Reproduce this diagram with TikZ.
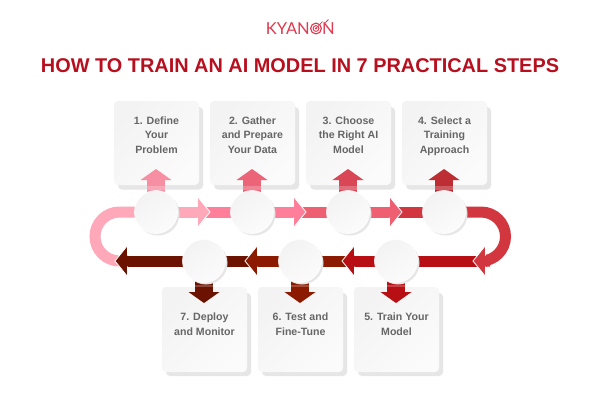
\documentclass[tikz,border=0pt]{standalone}
\usepackage{fontspec}
\setmainfont{Liberation Sans}
\newfontfamily\logofont{Lato}
\usetikzlibrary{calc}
\definecolor{cA}{HTML}{FFA8BA}
\definecolor{cB}{HTML}{FF7F9A}
\definecolor{cC}{HTML}{EE5F72}
\definecolor{cD}{HTML}{D2373F}
\definecolor{cE}{HTML}{B80F14}
\definecolor{cF}{HTML}{8B1A00}
\definecolor{cG}{HTML}{6B1300}
\definecolor{uA}{HTML}{F78FA3}
\definecolor{uB}{HTML}{EC6478}
\definecolor{uC}{HTML}{D94756}
\definecolor{uD}{HTML}{BD2E34}
\definecolor{titlered}{HTML}{B80F1E}
\definecolor{logored}{HTML}{E2394E}
\definecolor{boxtext}{HTML}{666666}
\definecolor{softshadow}{HTML}{E6E6E6}
\definecolor{cardlo}{HTML}{F3F3F3}
\definecolor{cardhi}{HTML}{FBFBFB}
\tikzset{
  x=1pt,y=-1pt,
  stepcard/.style={rounded corners=4pt,shading=axis,left color=cardlo,right color=cardhi,shading angle=45},
  cardshadow/.style={rounded corners=4pt,fill=softshadow},
  hub/.style={circle,minimum size=43pt,inner sep=0pt,shading=axis,top color=cardlo,bottom color=cardhi,shading angle=35},
  hubshadow/.style={circle,minimum size=43pt,inner sep=0pt,fill=softshadow},
  cardtext/.style={text=boxtext,align=center,inner sep=0pt,font=\fontsize{10.6}{14.3}\selectfont\bfseries},
  arrowbody/.style={draw=white,line width=0.8pt,line join=miter},
}
% #1 colour, #2 tail x, #3 tip x, #4 y : horizontal arrow
\newcommand{\hflow}[4]{%
  \pgfmathsetmacro{\dirsign}{(#3>#2)?1:-1}%
  \pgfmathsetmacro{\headbase}{#3-\dirsign*12.5}%
  \fill[#1] (#2,#4-5.5) -- (\headbase,#4-5.5) -- (\headbase,#4+5.5) -- (#2,#4+5.5) -- cycle;
  \draw[arrowbody,fill=#1] (\headbase,#4-5.5) -- (\headbase,#4-15.5) -- (#3,#4) -- (\headbase,#4+15.5) -- (\headbase,#4+5.5);
  \fill[#1] (\headbase-\dirsign*1,#4-5) rectangle (\headbase+\dirsign*1,#4+5);
}
% #1 colour, #2 x, #3 tail y, #4 tip y, #5 band top, #6 band bottom : vertical arrow
\newcommand{\vflow}[6]{%
  \pgfmathsetmacro{\dirsign}{(#4>#3)?1:-1}%
  \pgfmathsetmacro{\headbase}{#4-\dirsign*11}%
  \fill[#1] (#2-9,#3) rectangle (#2+9,\headbase);
  \fill[#1] (#2-15.5,\headbase) -- (#2,#4) -- (#2+15.5,\headbase) -- cycle;
  \fill[white,opacity=.22] (#2-9,#5) rectangle (#2+9,#6);
}
\begin{document}
\begin{tikzpicture}
\useasboundingbox (0,0) rectangle (600,400);
\fill[white] (0,0) rectangle (600,400);

% logo
\node[inner sep=0pt,anchor=east,text=logored,font=\fontsize{16.5}{16.5}\logofont] (logoleft) at (310,28.5) {KYAN};
\node[inner sep=0pt,anchor=west,text=logored,font=\fontsize{16.5}{16.5}\logofont] (logoright) at (322,28.5) {N};
\draw[logored,line width=1.1pt] (316,28.5) circle (5.4);
\draw[logored,line width=.9pt] (316,28.5) circle (2.9);
\fill[logored] (316,28.5) circle (1.1);
\draw[logored,line width=.7pt] (316,28.5) -- (322.5,21.5);
\draw[logored,line width=.8pt] (325.5,22.5) -- (328.5,19.5);

% title
\node[inner sep=0pt,text=titlered,font=\fontsize{19.9}{20}\selectfont\bfseries] (title) at (300,66) {HOW TO TRAIN AN AI MODEL IN 7 PRACTICAL STEPS};

% cards
\foreach \cx in {156.5,252.5,348.5,444.5}{
  \fill[cardshadow] (\cx-38.5,107) rectangle (\cx+46.5,189.5);
  \path[stepcard] (\cx-42.5,101) rectangle (\cx+42.5,185);
}
\foreach \cx in {204.5,300.5,396.5}{
  \fill[cardshadow] (\cx-38.5,293) rectangle (\cx+46.5,376);
  \path[stepcard] (\cx-42.5,287) rectangle (\cx+42.5,372);
}

% bends
\draw[cD,line width=11pt] (444,212) -- (481,212) arc[start angle=-90,end angle=90,radius=24.5] -- (490,261);
\draw[cA,line width=11pt] (156,212) -- (119.5,212) arc[start angle=-90,end angle=-270,radius=24.5];

% lower row, left to right so each head lies over the next shaft
\hflow{cG}{290}{115}{261}
\hflow{cF}{380}{245}{261}
\hflow{cE}{481}{342}{261}
\hflow{cD}{486}{473}{261}

% upper row, right to left so each head lies over the next shaft
\fill[cD] (392,206.5) rectangle (444,217.5);
\hflow{cC}{296}{402}{212}
\hflow{cB}{200}{306}{212}
\hflow{cA}{156}{210}{212}

% upward and downward arrows
\vflow{uA}{156}{195}{169}{185.5}{189.5}
\vflow{uB}{252}{195}{169}{185.5}{189.5}
\vflow{uC}{348}{195}{169}{185.5}{189.5}
\vflow{uD}{444}{195}{169}{185.5}{189.5}
\vflow{cG}{204}{278}{303}{284.5}{287}
\vflow{cF}{300}{278}{303}{284.5}{287}
\vflow{cE}{396}{278}{303}{284.5}{287}

% hubs
\foreach \cx/\cy/\nm in {156/212/h1,252/212/h2,348/212/h3,444/212/h4,396/261/h5,300/261/h6,204/261/h7}{
  \node[hubshadow] at (\cx+2,\cy+2) {};
  \node[hub,draw=white,line width=.6pt] (\nm) at (\cx,\cy) {};
}

% labels
\node[cardtext] (t1) at (156.5,136) {\strut 1. Define\\Your\\\strut Problem};
\node[cardtext] (t2) at (252.5,136) {\strut 2. Gather\\and Prepare\\\strut Your Data};
\node[cardtext] (t3) at (348.5,136) {\strut 3. Choose\\the Right AI\\\strut Model};
\node[cardtext] (t4) at (444.5,136) {\strut 4. Select a\\Training\\\strut Approach};
\node[cardtext] (t5) at (396.5,325) {\strut 5. Train Your\\\strut Model};
\node[cardtext] (t6) at (300.5,325) {\strut 6. Test and\\\strut Fine-Tune};
\node[cardtext] (t7) at (204.5,325) {\strut 7. Deploy\\\strut and Monitor};
\end{tikzpicture}
\end{document}
